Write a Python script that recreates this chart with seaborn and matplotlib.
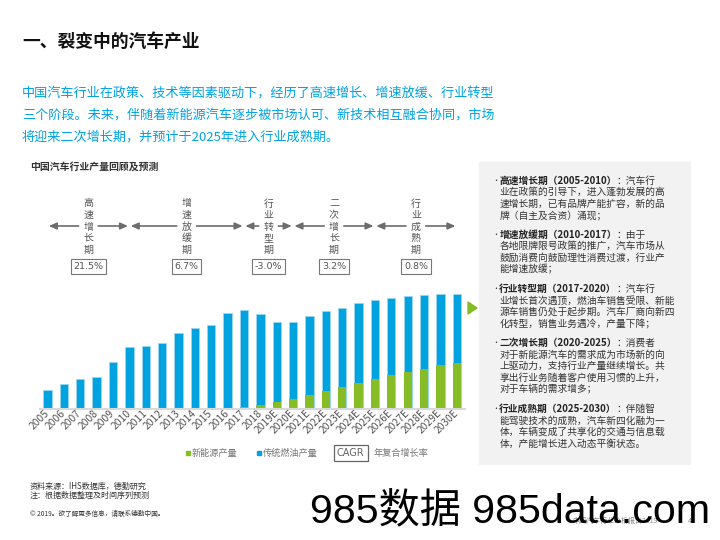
import numpy as np
import pandas as pd
import matplotlib
matplotlib.use('Agg')
import matplotlib.pyplot as plt
import matplotlib.transforms as mtransforms
from matplotlib.patches import Rectangle, Polygon
import seaborn as sns

# ---------------- 数据 ---------------- #
years = ['2005', '2006', '2007', '2008', '2009', '2010', '2011', '2012', '2013',
         '2014', '2015', '2016', '2017', '2018', '2019E', '2020E', '2021E',
         '2022E', '2023E', '2024E', '2025E', '2026E', '2027E', '2028E',
         '2029E', '2030E']
# 汽车总产量（百万辆，图中读数）
total = [5.6, 7.2, 8.8, 9.3, 13.8, 18.3, 18.4, 19.3, 22.2, 23.7, 24.5, 28.1,
         29.0, 27.8, 25.4, 25.4, 27.2, 28.6, 29.7, 31.0, 31.9, 32.5, 33.1,
         33.4, 33.6, 33.8]
# 新能源产量（百万辆）
nev = [0, 0, 0, 0, 0, 0, 0, 0, 0, 0, 0, 0.3, 0.6, 1.2, 2.0, 2.9, 4.1, 5.3,
       6.4, 7.6, 8.8, 9.9, 10.8, 11.7, 12.8, 13.5]

phase_names = ['高速增长期', '增速放缓期', '行业转型期', '二次增长期', '行业成熟期']
phase_start = ['2005', '2010', '2017', '2020E', '2025E']
phase_end = ['2010', '2017', '2020E', '2025E', '2030E']
phase_cagr = ['21.5%', '6.7%', '-3.0%', '3.2%', '0.8%']

title = '一、裂变中的汽车产业'
intro = ['中国汽车行业在政策、技术等因素驱动下，经历了高速增长、增速放缓、行业转型',
         '三个阶段。未来，伴随着新能源汽车逐步被市场认可、新技术相互融合协同，市场',
         '将迎来二次增长期，并预计于2025年进入行业成熟期。']
chart_title = '中国汽车行业产量回顾及预测'

bullet_heads = ['高速增长期（2005-2010）', '增速放缓期（2010-2017）',
                '行业转型期（2017-2020）', '二次增长期（2020-2025）',
                '行业成熟期（2025-2030）']
bullet_bodies = [
    ['：汽车行', '业在政策的引导下，进入蓬勃发展的高', '速增长期，已有品牌产能扩容，新的品',
     '牌（自主及合资）涌现；'],
    ['：由于', '各地限牌限号政策的推广，汽车市场从', '鼓励消费向鼓励理性消费过渡，行业产',
     '能增速放缓；'],
    ['：汽车行', '业增长首次遇顶，燃油车销售受限、新能', '源车销售仍处于起步期。汽车厂商向新四',
     '化转型，销售业务遇冷，产量下降；'],
    ['：消费者', '对于新能源汽车的需求成为市场新的向', '上驱动力，支持行业产量继续增长。共',
     '享出行业务随着客户使用习惯的上升，', '对于车辆的需求增多；'],
    ['：伴随智', '能驾驶技术的成熟，汽车新四化融为一', '体，车辆变成了共享化的交通与信息载',
     '体，产能增长进入动态平衡状态。'],
]

BLUE = '#00a3e0'
GREEN = '#86bc25'
GREY = '#555555'

sns.set_style('white')
plt.rcParams['font.family'] = ['Noto Sans CJK SC', 'DejaVu Sans']


def fx(x):
    return x / 720


def fy(y):
    return 1 - y / 540


fig = plt.figure(figsize=(7.2, 5.4), dpi=100)
fig.patch.set_facecolor('white')

# ---------------- 标题与导语 ---------------- #
fig.text(fx(22), fy(42), title, fontsize=12.8, weight='bold', color='#111111', va='center')
for i, line in enumerate(intro):
    fig.text(fx(22), fy(93.5 + i * 21.7), line, fontsize=9.45, color=BLUE, va='center')

fig.text(fx(30), fy(166.5), chart_title, fontsize=7.1, weight='bold', color='#333333', va='center')

# ---------------- 柱状图 ---------------- #
ax = fig.add_axes([fx(40.1), fy(409), 424.9 / 720, 122.9 / 540])
df = pd.DataFrame({'年份': years, '总产量': total, '新能源产量': nev})
sns.barplot(data=df, x='年份', y='总产量', color=BLUE, saturation=1, width=0.51,
            edgecolor='#9ad6f1', linewidth=0.6, ax=ax)
sns.barplot(data=df, x='年份', y='新能源产量', color=GREEN, saturation=1, width=0.51,
            linewidth=0, ax=ax)
ax.set_xlim(-0.45, 25.5)
ax.set_ylim(0, 36)
ax.set_xlabel('')
ax.set_ylabel('')
ax.set_yticks([])
ax.patch.set_alpha(0)
for s in ['top', 'right', 'left']:
    ax.spines[s].set_visible(False)
ax.spines['bottom'].set_color('#d9d9d9')
ax.spines['bottom'].set_linewidth(1.5)
ax.tick_params(axis='x', length=0, pad=2, labelsize=7.4, colors=GREY)
ax.set_xticks(range(len(years)))
ax.set_xticklabels(years, rotation=45, ha='right', va='center', rotation_mode='anchor')

# ---------------- 阶段箭头与CAGR ---------------- #
trans = mtransforms.blended_transform_factory(ax.transData, fig.transFigure)
pos = {y: i for i, y in enumerate(years)}
arrow_y = fy(226)
gap = 0.6
astyle = '-|>,head_length=0.45,head_width=0.2'
for name, s, e, c in zip(phase_names, phase_start, phase_end, phase_cagr):
    x0, x1 = pos[s], pos[e]
    mid = (x0 + x1) / 2
    ax.annotate('', xy=(x0, arrow_y), xytext=(mid - gap, arrow_y), xycoords=trans,
                textcoords=trans, annotation_clip=False,
                arrowprops=dict(arrowstyle=astyle, color='#6d6d6d', lw=1.2,
                                shrinkA=0, shrinkB=1, mutation_scale=10))
    ax.annotate('', xy=(x1, arrow_y), xytext=(mid + gap, arrow_y), xycoords=trans,
                textcoords=trans, annotation_clip=False,
                arrowprops=dict(arrowstyle=astyle, color='#6d6d6d', lw=1.2,
                                shrinkA=0, shrinkB=1, mutation_scale=10))
    for k, ch in enumerate(name):
        ax.text(mid, fy(203.5 + k * 11.5), ch, transform=trans, ha='center', va='center',
                fontsize=7.2, color=GREY)
    ax.text(mid, fy(266.5), c, transform=trans, ha='center', va='center', fontsize=6.8,
            color=GREY, family='DejaVu Sans',
            bbox=dict(boxstyle='square,pad=0.3', fc='white', ec='#777777', lw=0.8))

# ---------------- 图例 ---------------- #
fig.add_artist(Rectangle((fx(185.7), fy(455)), 4.5 / 720, 4.5 / 540, transform=fig.transFigure,
                         color=GREEN))
fig.text(fx(191.5), fy(453), '新能源产量', fontsize=6.6, color='#777777', va='center')
fig.add_artist(Rectangle((fx(256.5), fy(455)), 4.5 / 720, 4.5 / 540, transform=fig.transFigure,
                         color=BLUE))
fig.text(fx(263), fy(453), '传统燃油产量', fontsize=6.6, color='#777777', va='center')
fig.text(fx(350.8), fy(453), 'CAGR', fontsize=7, color='#666666', va='center', ha='center',
         family='DejaVu Sans',
         bbox=dict(boxstyle='square,pad=0.35', fc='white', ec='#666666', lw=0.9))
fig.text(fx(374), fy(453), '年复合增长率', fontsize=6.6, color='#777777', va='center')

# ---------------- 右侧说明 ---------------- #
fig.add_artist(Rectangle((fx(479), fy(464)), (690 - 479) / 720, (464 - 162) / 540,
                         transform=fig.transFigure, color='#f2f2f2', zorder=0))
fig.add_artist(Polygon([(fx(468), fy(302)), (fx(468), fy(314)), (fx(477), fy(308))],
                       closed=True, transform=fig.transFigure, color=GREEN))
y = 180.7
for head, body in zip(bullet_heads, bullet_bodies):
    fig.text(fx(492.5), fy(y), '•', fontsize=5, color='#333333', va='center')
    t = fig.text(fx(499.3), fy(y), head, fontsize=7.0, weight='bold', color='#222222',
                 va='center')
    ax.annotate(body[0], xy=(1, 0.5), xycoords=t, va='center', ha='left', fontsize=7.0,
                color='#333333', annotation_clip=False)
    for k, line in enumerate(body[1:]):
        fig.text(fx(499.3), fy(y + (k + 1) * 11.5), line, fontsize=7.0, color='#333333',
                 va='center')
    y += len(body) * 11.5 + 8.2

# ---------------- 脚注 ---------------- #
fig.text(fx(30), fy(486), '资料来源：IHS数据库，德勤研究', fontsize=5.8, color='#333333', va='center')
fig.text(fx(30), fy(495.7), '注：根据数据整理及时间序列预测', fontsize=5.8, color='#333333', va='center')
fig.text(fx(30), fy(514), '© 2019。欲了解更多信息，请联系德勤中国。', fontsize=4.8, color='#333333',
         va='center')
fig.text(fx(572), fy(521), '中国汽车行业分析报告2019', fontsize=5, color='#888888', va='center')
fig.text(fx(688), fy(521), '4', fontsize=5, color='#888888', va='center')
fig.text(fx(310), fy(512), '985数据 985data.com', fontsize=29.6, color='black', va='center',
         family=['Liberation Sans', 'Noto Sans CJK SC'], zorder=10)

fig.savefig('out.png', dpi=100)
